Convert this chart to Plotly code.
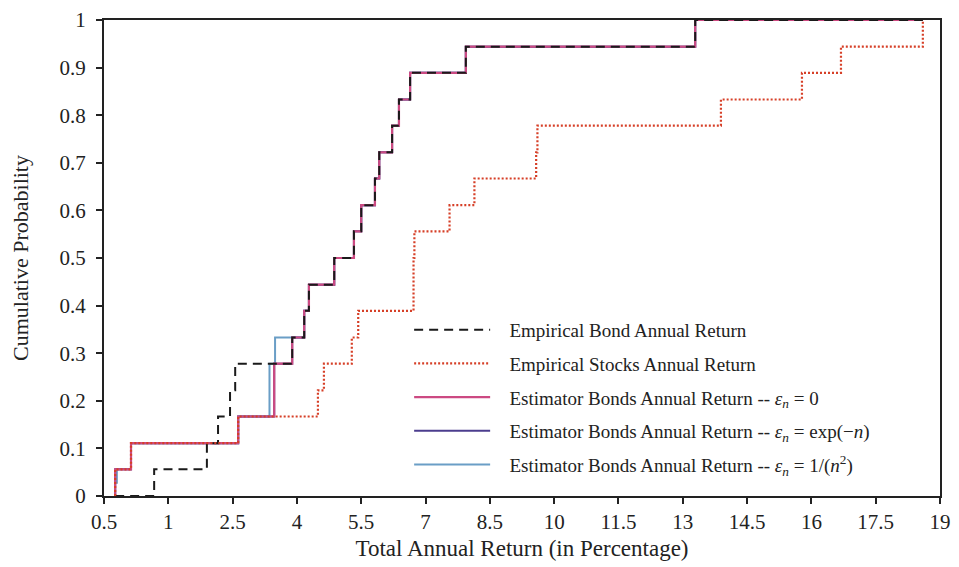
import plotly.graph_objects as go

# ---- data ----
bond_x = [-0.24, 0.67, 1.90, 2.16, 2.44, 2.56, 3.89, 4.17, 4.28, 4.87, 5.33, 5.50,
          5.82, 5.92, 6.22, 6.38, 6.64, 7.94, 13.29, 18.60]
bond_y = [0, 0.056, 0.111, 0.167, 0.222, 0.278, 0.333, 0.389, 0.444, 0.5, 0.556, 0.611,
          0.667, 0.722, 0.778, 0.833, 0.889, 0.944, 1.0, 1.0]

stocks_x = [-0.24, -0.24, 0.13, 2.63, 4.49, 4.63, 5.28, 5.43, 6.72, 6.74, 7.56, 8.14,
            9.58, 9.61, 13.89, 15.78, 16.69, 18.60]
stocks_y = [0, 0.056, 0.111, 0.167, 0.222, 0.278, 0.333, 0.389, 0.5, 0.556, 0.611, 0.667,
            0.722, 0.778, 0.833, 0.889, 0.944, 1.0]

est0_x = [-0.24, -0.24, 0.13, 2.63, 3.47, 3.89, 4.17, 4.28, 4.87, 5.33, 5.50, 5.82,
          5.92, 6.22, 6.38, 6.64, 7.94, 13.29, 18.60]
est0_y = [0, 0.056, 0.111, 0.167, 0.278, 0.333, 0.389, 0.444, 0.5, 0.556, 0.611, 0.667,
          0.722, 0.778, 0.833, 0.889, 0.944, 1.0, 1.0]

estexp_x = [-0.24, -0.24, 0.13, 2.63, 3.47, 3.89, 4.17, 4.28, 4.87, 5.33, 5.50, 5.82,
            5.92, 6.22, 6.38, 6.64, 7.94, 13.29, 18.60]
estexp_y = [0, 0.056, 0.111, 0.167, 0.278, 0.333, 0.389, 0.444, 0.5, 0.556, 0.611, 0.667,
            0.722, 0.778, 0.833, 0.889, 0.944, 1.0, 1.0]

estsq_x = [-0.24, -0.24, -0.20, 0.13, 2.63, 3.36, 3.49, 4.17, 4.28, 4.87, 5.33, 5.50,
           5.82, 5.92, 6.22, 6.38, 6.64, 7.94, 13.29, 18.60]
estsq_y = [0, 0.028, 0.056, 0.111, 0.167, 0.278, 0.333, 0.389, 0.444, 0.5, 0.556, 0.611,
           0.667, 0.722, 0.778, 0.833, 0.889, 0.944, 1.0, 1.0]

x_tickvals = [-0.5, 1, 2.5, 4, 5.5, 7, 8.5, 10, 11.5, 13, 14.5, 16, 17.5, 19]
x_ticktext = ["0.5", "1", "2.5", "4", "5.5", "7", "8.5", "10", "11.5", "13", "14.5", "16", "17.5", "19"]
y_tickvals = [0, 0.1, 0.2, 0.3, 0.4, 0.5, 0.6, 0.7, 0.8, 0.9, 1]
y_ticktext = ["0", "0.1", "0.2", "0.3", "0.4", "0.5", "0.6", "0.7", "0.8", "0.9", "1"]

FONT = "Liberation Serif"
PAD = "&nbsp;&nbsp;&nbsp;"

fig = go.Figure()
fig.add_trace(go.Scatter(x=estsq_x, y=estsq_y, mode="lines", line_shape="hv",
                         line=dict(color="#6a9ec6", width=2),
                         name=PAD + "Estimator Bonds Annual Return -- <i>ε</i><sub><i>n</i></sub> = 1/(<i>n</i><sup>2</sup>)",
                         legendrank=5, legendgroup="e"))
fig.add_trace(go.Scatter(x=estexp_x, y=estexp_y, mode="lines", line_shape="hv",
                         line=dict(color="#4b3d8e", width=2),
                         name=PAD + "Estimator Bonds Annual Return -- <i>ε</i><sub><i>n</i></sub> = exp(−<i>n</i>)",
                         legendrank=4, legendgroup="d"))
fig.add_trace(go.Scatter(x=est0_x, y=est0_y, mode="lines", line_shape="hv",
                         line=dict(color="#cc4a82", width=2.2),
                         name=PAD + "Estimator Bonds Annual Return -- <i>ε</i><sub><i>n</i></sub> = 0",
                         legendrank=3, legendgroup="c"))
fig.add_trace(go.Scatter(x=bond_x, y=bond_y, mode="lines", line_shape="hv",
                         line=dict(color="#1a1a1a", width=2, dash="9px,6px"),
                         name=PAD + "Empirical Bond Annual Return", legendrank=1, legendgroup="a"))
fig.add_trace(go.Scatter(x=stocks_x, y=stocks_y, mode="lines", line_shape="hv",
                         line=dict(color="#d63f27", width=2.2, dash="2px,2px"),
                         name=PAD + "Empirical Stocks Annual Return", legendrank=2, legendgroup="b"))

# the page body adds an 8px offset, so the figure is sized to fit the window
fig.update_layout(
    width=951, height=559,
    margin=dict(l=96, r=19, t=12, b=71),
    paper_bgcolor="white", plot_bgcolor="white",
    font=dict(family=FONT, color="#222", size=20),
    legend=dict(x=0.365, y=0.389, xanchor="left", yanchor="top",
                font=dict(family=FONT, size=19, color="#222"),
                bgcolor="rgba(0,0,0,0)", itemwidth=76, tracegroupgap=6,
                traceorder="grouped"),
    xaxis=dict(range=[-0.5, 19], tickvals=x_tickvals, ticktext=x_ticktext,
               showgrid=False, zeroline=False, showline=True, mirror=True,
               linecolor="#222", linewidth=2, ticks="outside", ticklen=6,
               tickcolor="#222", tickwidth=1.5, tickfont=dict(size=21), automargin=False,
               title=dict(text="Total Annual Return (in Percentage)", font=dict(size=23), standoff=7)),
    yaxis=dict(range=[0, 1], tickvals=y_tickvals, ticktext=y_ticktext,
               showgrid=False, zeroline=False, showline=True, mirror=True,
               linecolor="#222", linewidth=2, ticks="outside", ticklen=6,
               tickcolor="#222", tickwidth=1.5, tickfont=dict(size=21), automargin=False,
               ticklabelstandoff=6,
               title=dict(text="Cumulative Probability", font=dict(size=22), standoff=32)),
)

fig.write_html("out.html")
